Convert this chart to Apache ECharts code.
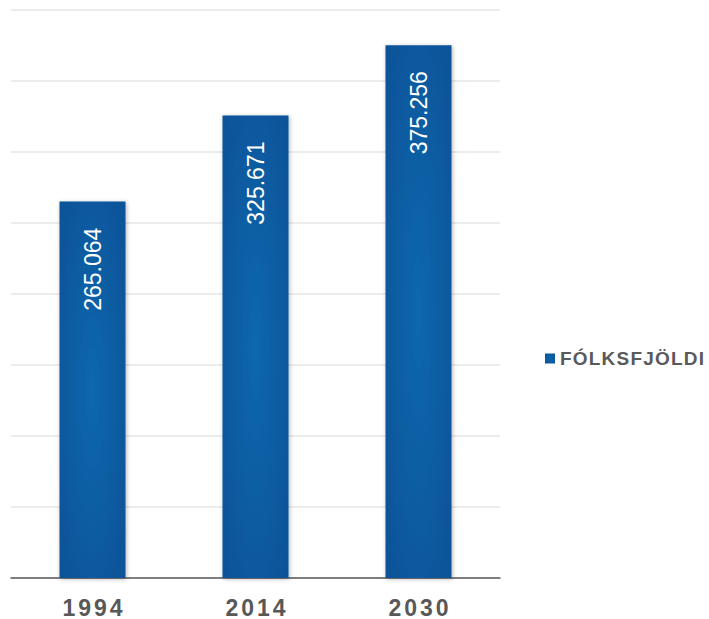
<!DOCTYPE html>
<html>
<head>
<meta charset="utf-8">
<script src="https://cdn.jsdelivr.net/npm/echarts@6/dist/echarts.min.js"></script>
<style>
html,body{margin:0;padding:0;background:#fff;}
#c{width:709px;height:619px;}
svg text[fill="#585858"], svg text[fill="rgb(88,88,88)"]{letter-spacing:3px;}
svg text[fill="#5a5a5a"], svg text[fill="rgb(90,90,90)"]{letter-spacing:1.2px;}
</style>
</head>
<body>
<div id="c"></div>
<script>
const categories = ['1994', '2014', '2030'];
const seriesName = 'FÓLKSFJÖLDI';
const values = [265064, 325671, 375256];

const chart = echarts.init(document.getElementById('c'), null, {renderer: 'svg'});
const barColor = new echarts.graphic.RadialGradient(0.5, 0.5, 0.75, [
  {offset: 0, color: '#0b68ae'},
  {offset: 1, color: '#0a5096'}
]);
chart.setOption({
  animation: false,
  grid: {left: 11, right: 209, top: 10, bottom: 41, containLabel: false},
  legend: {
    data: [{name: seriesName, icon: 'rect'}],
    orient: 'vertical',
    left: 540, top: 344,
    itemWidth: 10, itemHeight: 10, itemGap: 5,
    textStyle: {color: '#5a5a5a', fontSize: 19, fontWeight: 'bold', fontFamily: 'Liberation Sans, Arial, sans-serif', padding: [0, 0, 0, 0]}
  },
  xAxis: {
    type: 'category',
    data: categories,
    axisLine: {lineStyle: {color: '#595959', width: 1.5}},
    axisTick: {show: false},
    axisLabel: {color: '#585858', fontSize: 23, fontWeight: 'bold', fontFamily: 'Liberation Sans, Arial, sans-serif', margin: 18, padding: [0, 0, 0, 3]}
  },
  yAxis: {
    type: 'value',
    min: 0, max: 400000, interval: 50000,
    axisLabel: {show: false},
    axisLine: {show: false},
    axisTick: {show: false},
    splitLine: {lineStyle: {color: '#e6e6e6', width: 1.5}}
  },
  series: [{
    name: seriesName,
    type: 'bar',
    data: values,
    barWidth: 66,
    itemStyle: {
      color: barColor,
      shadowColor: 'rgba(0,0,0,0.3)',
      shadowBlur: 4,
      shadowOffsetX: 1,
      shadowOffsetY: 1
    },
    label: {
      show: true,
      position: 'insideTop',
      rotate: 90,
      align: 'right',
      verticalAlign: 'middle',
      distance: 26,
      color: '#ffffff',
      fontSize: 23,
      fontFamily: 'Liberation Sans, Arial, sans-serif',
      formatter: p => p.value.toLocaleString('de-DE')
    }
  }]
});
</script>
</body>
</html>
